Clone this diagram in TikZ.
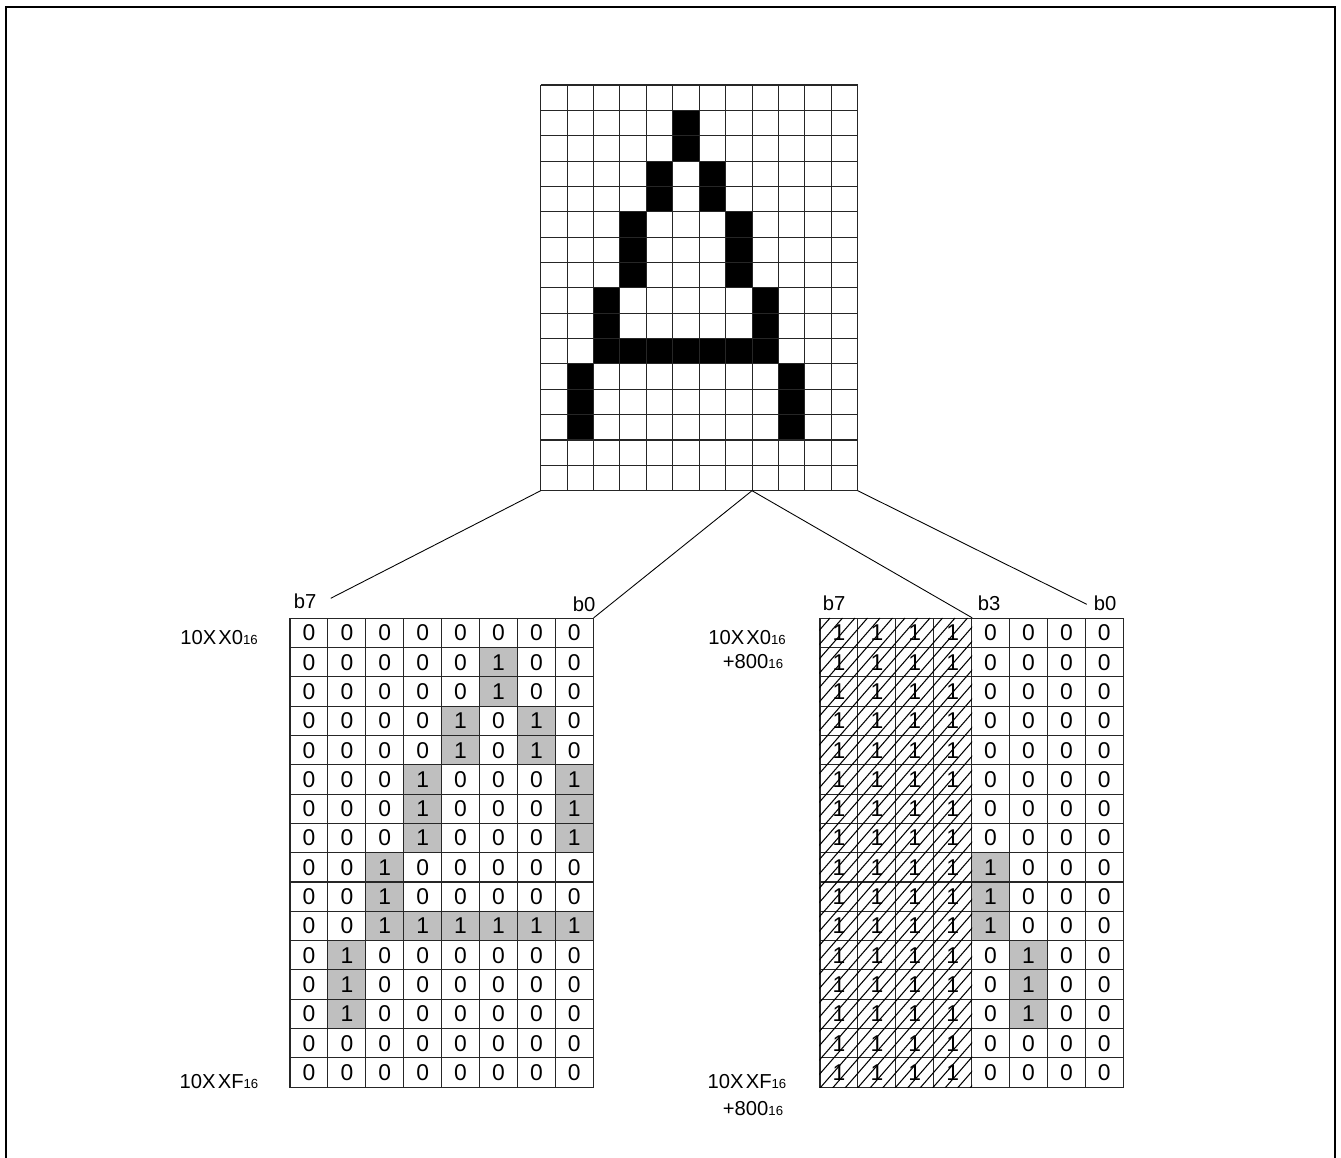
\documentclass[tikz,border=0pt]{standalone}
\usepackage{fontspec}
\setmainfont{Liberation Sans}
\usetikzlibrary{positioning}

% address text with a small "16" radix
\newcommand{\hexsub}[1]{#1{\fontsize{7.5}{8}\selectfont 16}}
\newcommand{\xxgap}{X\kern1.2pt X}

% glyph rows, 12 bits each (col 0 = msb)
\def\glyphrows{0/0,1/64,2/64,3/160,4/160,5/272,6/272,7/272,8/520,9/520,10/1016,11/1028,12/1028,13/1028,14/0,15/0}

\tikzset{
  bitcell/.style={draw=black!85,line width=0.6pt,minimum width=0.758cm,minimum height=0.586cm,inner sep=0pt,font=\fontsize{13}{15}\selectfont},
  oncell/.style={bitcell,fill=gray!50},
  gridline/.style={draw=black!85,line width=0.6pt},
  hatchline/.style={draw=black,line width=0.6pt},
  bitlabel/.style={inner sep=0pt,font=\fontsize{11.5}{13}\selectfont},
  fanline/.style={draw=black,line width=0.5pt},
}

\begin{document}
\begin{tikzpicture}[x=0.02cm,y=-0.02cm]
\useasboundingbox (0,0) rectangle (1341,1157);
\draw[line width=1.2pt] (6,1175) -- (6,7) -- (1335,7) -- (1335,1175);

% character glyph
\begin{scope}[shift={(540.7,85)},x=0.5284cm,y=-0.5072cm]
\foreach \r/\v in \glyphrows {
  \foreach \c in {0,...,11} {
    \pgfmathtruncatemacro\bit{mod(floor(\v/2^(11-\c)),2)}
    \ifnum\bit=1 \fill[black] (\c,\r) rectangle ++(1,1); \fi
  }
}
\foreach \c in {0,...,12} \draw[gridline] (\c,0) -- (\c,16);
\foreach \r in {0,...,16} \draw[gridline] (0,\r) -- (12,\r);
\coordinate (glyphSW) at (0,16);
\coordinate (glyphS8) at (8,16);
\coordinate (glyphSE) at (12,16);
\end{scope}

% left table: columns 0..7 of the glyph
\foreach \r/\v in \glyphrows {
  \foreach \c in {0,...,7} {
    \pgfmathtruncatemacro\bit{mod(floor(\v/2^(11-\c)),2)}
    \ifnum\bit=1
      \node[oncell] (L\r-\c) at ({290+(\c+0.5)*37.9},{618.3+(\r+0.5)*29.3}) {1};
    \else
      \node[bitcell] (L\r-\c) at ({290+(\c+0.5)*37.9},{618.3+(\r+0.5)*29.3}) {0};
    \fi
  }
}

% right table: b7..b4 fixed, b3..b0 = columns 8..11 of the glyph
\foreach \r/\v in \glyphrows {
  \foreach \c in {0,...,3}
    \node[bitcell] (R\r-\c) at ({820+(\c+0.5)*37.9},{618.3+(\r+0.5)*29.3}) {1};
  \foreach \c in {4,...,7} {
    \pgfmathtruncatemacro\bit{mod(floor(\v/2^(7-\c)),2)}
    \ifnum\bit=1
      \node[oncell] (R\r-\c) at ({820+(\c+0.5)*37.9},{618.3+(\r+0.5)*29.3}) {1};
    \else
      \node[bitcell] (R\r-\c) at ({820+(\c+0.5)*37.9},{618.3+(\r+0.5)*29.3}) {0};
    \fi
  }
}
\begin{scope}
\clip (R0-0.north west) rectangle (R15-3.south east);
\foreach \i in {-34,...,13} \draw[hatchline] ({820+\i*12.5},1088) -- ++(410,-470);
\end{scope}

% bit labels
\node[bitlabel] (b7L) at (305,601) {b7};
\node[bitlabel] (b0L) at (584,604) {b0};
\node[bitlabel] (b7R) at (834,603) {b7};
\node[bitlabel] (b3R) at (989,603) {b3};
\node[bitlabel] (b0R) at (1105,603) {b0};

% addresses
\node[bitlabel] (addrL0) at (219,638) {\hexsub{10\xxgap 0}};
\node[bitlabel] (addrLF) at (219,1082) {\hexsub{10\xxgap F}};
\node[bitlabel] (addrR0) at (747,638) {\hexsub{10\xxgap 0}};
\node[bitlabel] (offR0) at (753,662) {\hexsub{+800}};
\node[bitlabel] (addrRF) at (747,1082) {\hexsub{10\xxgap F}};
\node[bitlabel] (offRF) at (753,1109) {\hexsub{+800}};

% fan-out from glyph to tables
\coordinate (fanL) at (330.7,598.3);
\coordinate (fanR) at (1086.7,604.3);
\draw[fanline] (glyphSW) -- (fanL);
\draw[fanline] (glyphS8) -- (L0-7.north east);
\draw[fanline] (glyphS8) -- (R0-3.north east);
\draw[fanline] (glyphSE) -- (fanR);
\end{tikzpicture}
\end{document}
